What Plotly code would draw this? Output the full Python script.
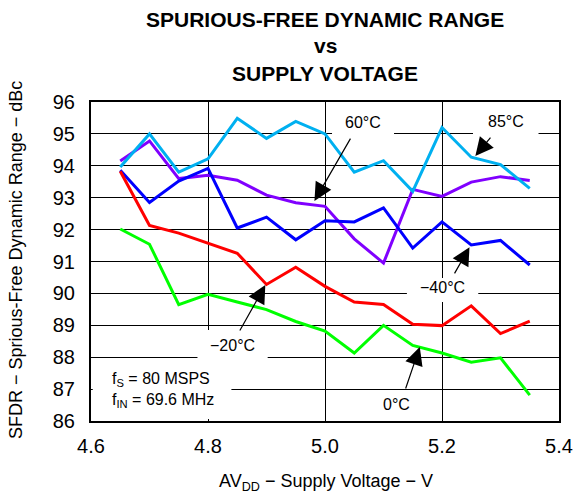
import plotly.graph_objects as go

supply_v = [4.65, 4.70, 4.75, 4.80, 4.85, 4.90, 4.95, 5.00, 5.05, 5.10, 5.15, 5.20, 5.25, 5.30, 5.35]
sfdr_85c = [93.96, 95.00, 93.80, 94.22, 95.49, 94.86, 95.39, 95.00, 93.80, 94.16, 93.20, 95.20, 94.27, 94.04, 93.29]
sfdr_60c = [94.15, 94.78, 93.60, 93.70, 93.55, 93.08, 92.84, 92.73, 91.71, 90.95, 93.26, 93.04, 93.49, 93.66, 93.54]
sfdr_m40c = [93.86, 92.85, 93.52, 93.92, 92.05, 92.39, 91.68, 92.28, 92.24, 92.68, 91.42, 92.24, 91.52, 91.66, 90.89]
sfdr_m20c = [93.83, 92.13, 91.89, 91.57, 91.26, 90.28, 90.82, 90.22, 89.73, 89.65, 89.03, 88.99, 89.61, 88.74, 89.13]
sfdr_0c = [92.02, 91.54, 89.65, 89.97, 89.73, 89.49, 89.12, 88.82, 88.13, 89.00, 88.37, 88.13, 87.84, 87.98, 86.81]

x_ticks = [4.6, 4.8, 5.0, 5.2, 5.4]
x_tick_text = ["4.6", "4.8", "5.0", "5.2", "5.4"]
y_ticks = [86, 87, 88, 89, 90, 91, 92, 93, 94, 95, 96]

FONT = "Liberation Sans, Arial, sans-serif"

series = [
    ("60°C", sfdr_60c, "#8000FF"),
    ("85°C", sfdr_85c, "#00B0F0"),
    ("−40°C", sfdr_m40c, "#0000FF"),
    ("−20°C", sfdr_m20c, "#FF0000"),
    ("0°C", sfdr_0c, "#00FF00"),
]

# page has an 8px body margin: plot area absolute px = (91..571, 102..421)
PL, PT, PW, PH = 91, 102, 480, 319


def px(xp):
    return (xp - PL) / PW


def py(yp):
    return (PT + PH - yp) / PH


fig = go.Figure()
for name, vals, col in series:
    fig.add_trace(go.Scatter(x=supply_v, y=vals, mode="lines", name=name,
                             line=dict(color=col, width=3)))

# white boxes breaking the grid behind labels
boxes = [
    (5.012, 5.118, 94.90, 95.75),
    (5.253, 5.365, 94.90, 95.80),
    (5.140, 5.262, 89.73, 90.48),
    (4.782, 4.902, 87.91, 88.85),
    (4.603, 4.840, 86.06, 87.91),
]
for x0, x1, y0, y1 in boxes:
    fig.add_shape(type="rect", x0=x0, x1=x1, y0=y0, y1=y1, xref="x", yref="y",
                  fillcolor="white", line=dict(width=0), layer="between")

# arrows: (tip x, tip y, tail x, tail y)
arrows = [
    (4.982, 92.90, 5.045, 94.90),
    (5.257, 94.31, 5.285, 94.93),
    (5.247, 91.45, 5.220, 90.58),
    (4.898, 90.26, 4.853, 88.79),
    (5.162, 88.32, 5.137, 86.97),
]
for tx, ty, ax, ay in arrows:
    fig.add_annotation(x=tx, y=ty, ax=ax, ay=ay, xref="x", yref="y", axref="x", ayref="y",
                       showarrow=True, arrowhead=2, arrowsize=3.0, arrowwidth=1.2,
                       arrowcolor="black", text="")

labels = [
    ("60°C", 5.065, 95.37),
    ("85°C", 5.310, 95.40),
    ("−40°C", 5.200, 90.20),
    ("−20°C", 4.842, 88.38),
    ("0°C", 5.123, 86.53),
]
for txt, lx, ly in labels:
    fig.add_annotation(x=lx, y=ly, xref="x", yref="y", text=txt, showarrow=False,
                       xanchor="center", yanchor="middle",
                       font=dict(family=FONT, size=16, color="black"))

fig.add_annotation(x=4.6317, y=86.97, xref="x", yref="y", xanchor="left", yanchor="middle",
                   align="left",
                   text="f<sub>S</sub> = 80 MSPS<br>f<sub>IN</sub> = 69.6 MHz", showarrow=False,
                   font=dict(family=FONT, size=16, color="black"))

# title lines
for txt, yy in [("SPURIOUS-FREE DYNAMIC RANGE", 19), ("vs", 46), ("SUPPLY VOLTAGE", 73)]:
    fig.add_annotation(x=px(331), y=py(yy), xref="paper", yref="paper",
                       xanchor="center", yanchor="middle",
                       text="<b>" + txt + "</b>", showarrow=False,
                       font=dict(family=FONT, size=21, color="black"))

# axis titles
fig.add_annotation(x=px(14), y=py(260), xref="paper", yref="paper",
                   xanchor="center", yanchor="middle",
                   text="SFDR − Sprious-Free Dynamic Range − dBc", textangle=-90, showarrow=False,
                   font=dict(family=FONT, size=18, color="black"))
fig.add_annotation(x=px(332), y=py(483), xref="paper", yref="paper",
                   xanchor="center", yanchor="middle",
                   text="AV<sub>DD</sub> − Supply Voltage − V", showarrow=False,
                   font=dict(family=FONT, size=18, color="black"))

fig.update_layout(
    width=577, height=486,
    margin=dict(l=83, r=14, t=94, b=73),
    paper_bgcolor="white", plot_bgcolor="white",
    showlegend=False,
    font=dict(family=FONT, color="black"),
)
fig.update_xaxes(range=[4.6, 5.4], tickvals=x_ticks, ticktext=x_tick_text,
                 showgrid=True, gridcolor="black", gridwidth=1,
                 showline=True, linecolor="black", linewidth=2, mirror=True,
                 ticks="outside", ticklen=6, tickcolor="rgba(0,0,0,0)",
                 tickfont=dict(family=FONT, size=20, color="black"), zeroline=False)
fig.update_yaxes(range=[86, 96], tickvals=y_ticks,
                 showgrid=True, gridcolor="black", gridwidth=1,
                 showline=True, linecolor="black", linewidth=2, mirror=True,
                 ticks="outside", ticklen=10, tickcolor="rgba(0,0,0,0)",
                 tickfont=dict(family=FONT, size=20, color="black"), zeroline=False)

fig.write_html("out.html")
